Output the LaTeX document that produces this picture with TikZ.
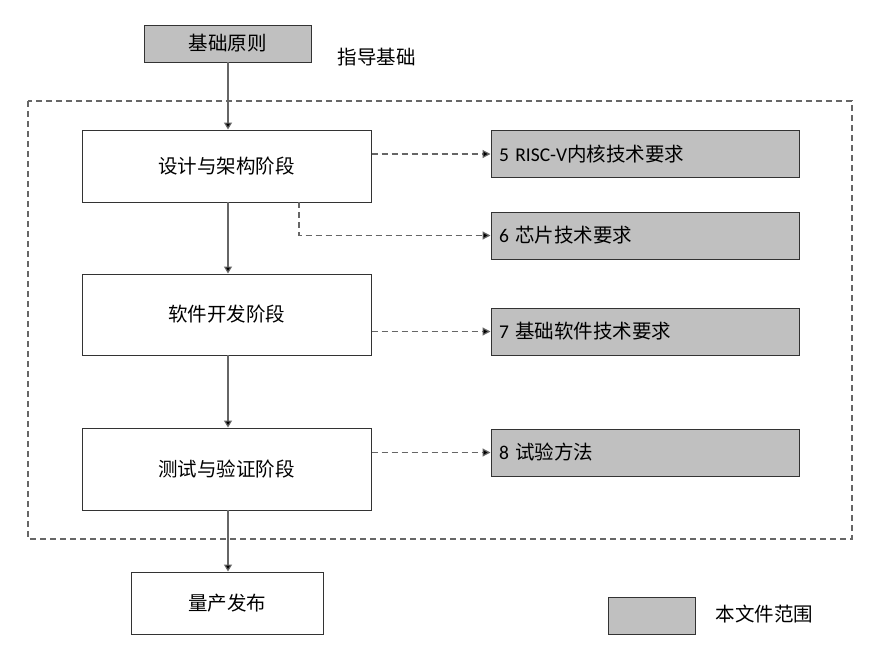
\documentclass[tikz,border=0pt]{standalone}
\usepackage{fontspec}
\setmainfont{Noto Sans CJK SC}
\newfontfamily\latfont{Carlito}
\usetikzlibrary{arrows.meta}
\definecolor{boxgray}{HTML}{C0C0C0}
\definecolor{linegray}{HTML}{666666}
\begin{document}
\begin{tikzpicture}[x=1pt,y=-1pt,
  font=\fontsize{19.5}{22}\selectfont,
  base/.style={draw=black!80, line width=1pt, inner sep=0pt},
  wbox/.style={base, fill=white, minimum width=289pt, minimum height=#1},
  gbox/.style={base, fill=boxgray, minimum width=308pt, minimum height=47pt, text width=292pt, align=left},
  flow/.style={draw=linegray, line width=1.2pt, -{Triangle[length=7pt,width=8pt,fill=black]}},
  dflow/.style={draw=linegray, line width=1.2pt, dash pattern=on 6pt off 4pt, -{Triangle[length=8pt,width=8pt,fill=black]}},
]
\useasboundingbox (0,0) rectangle (884,656);
% outer dashed frame
\draw[linegray, line width=1.2pt, dash pattern=on 6pt off 4pt] (28,101) rectangle (852,539);
% nodes
\node[base, fill=boxgray, minimum width=167pt, minimum height=37pt] (basic) at (227.5,43.5) {基础原则};
\node[anchor=west] (guide) at (334,57) {指导基础};
\node[wbox=72pt] (design) at (226.5,166) {设计与架构阶段};
\node[wbox=81pt] (soft) at (226.5,314.5) {软件开发阶段};
\node[wbox=82pt] (test) at (226.5,469) {测试与验证阶段};
\node[base, fill=white, minimum width=192pt, minimum height=62pt] (mass) at (227,603) {量产发布};
\node[gbox] (r5) at (645,154) {{\latfont 5 RISC-V}内核技术要求};
\node[gbox] (r6) at (645,235.5) {{\latfont 6 }芯片技术要求};
\node[gbox] (r7) at (645,331.5) {{\latfont 7 }基础软件技术要求};
\node[gbox, minimum height=47pt] (r8) at (645,452.5) {{\latfont 8 }试验方法};
\node[base, fill=boxgray, minimum width=87pt, minimum height=37pt] (leg) at (651.5,615.5) {};
\node[anchor=west] (legt) at (712,614) {本文件范围};
% connectors
\coordinate (c1) at (228,62);
\coordinate (c2) at (228,202);
\coordinate (c3) at (228,355);
\coordinate (c4) at (228,510);
\draw[flow] (c1) -- (c1 |- design.north);
\draw[flow] (c2) -- (c2 |- soft.north);
\draw[flow] (c3) -- (c3 |- test.north);
\draw[flow] (c4) -- (c4 |- mass.north);
\draw[dflow] (design.east |- r5.west) -- (r5.west);
\coordinate (d6) at (299,202);
\draw[dflow] (d6) |- (r6.west);
\draw[dflow] (soft.east |- r7.west) -- (r7.west);
\draw[dflow] (test.east |- r8.west) -- (r8.west);
\end{tikzpicture}
\end{document}
